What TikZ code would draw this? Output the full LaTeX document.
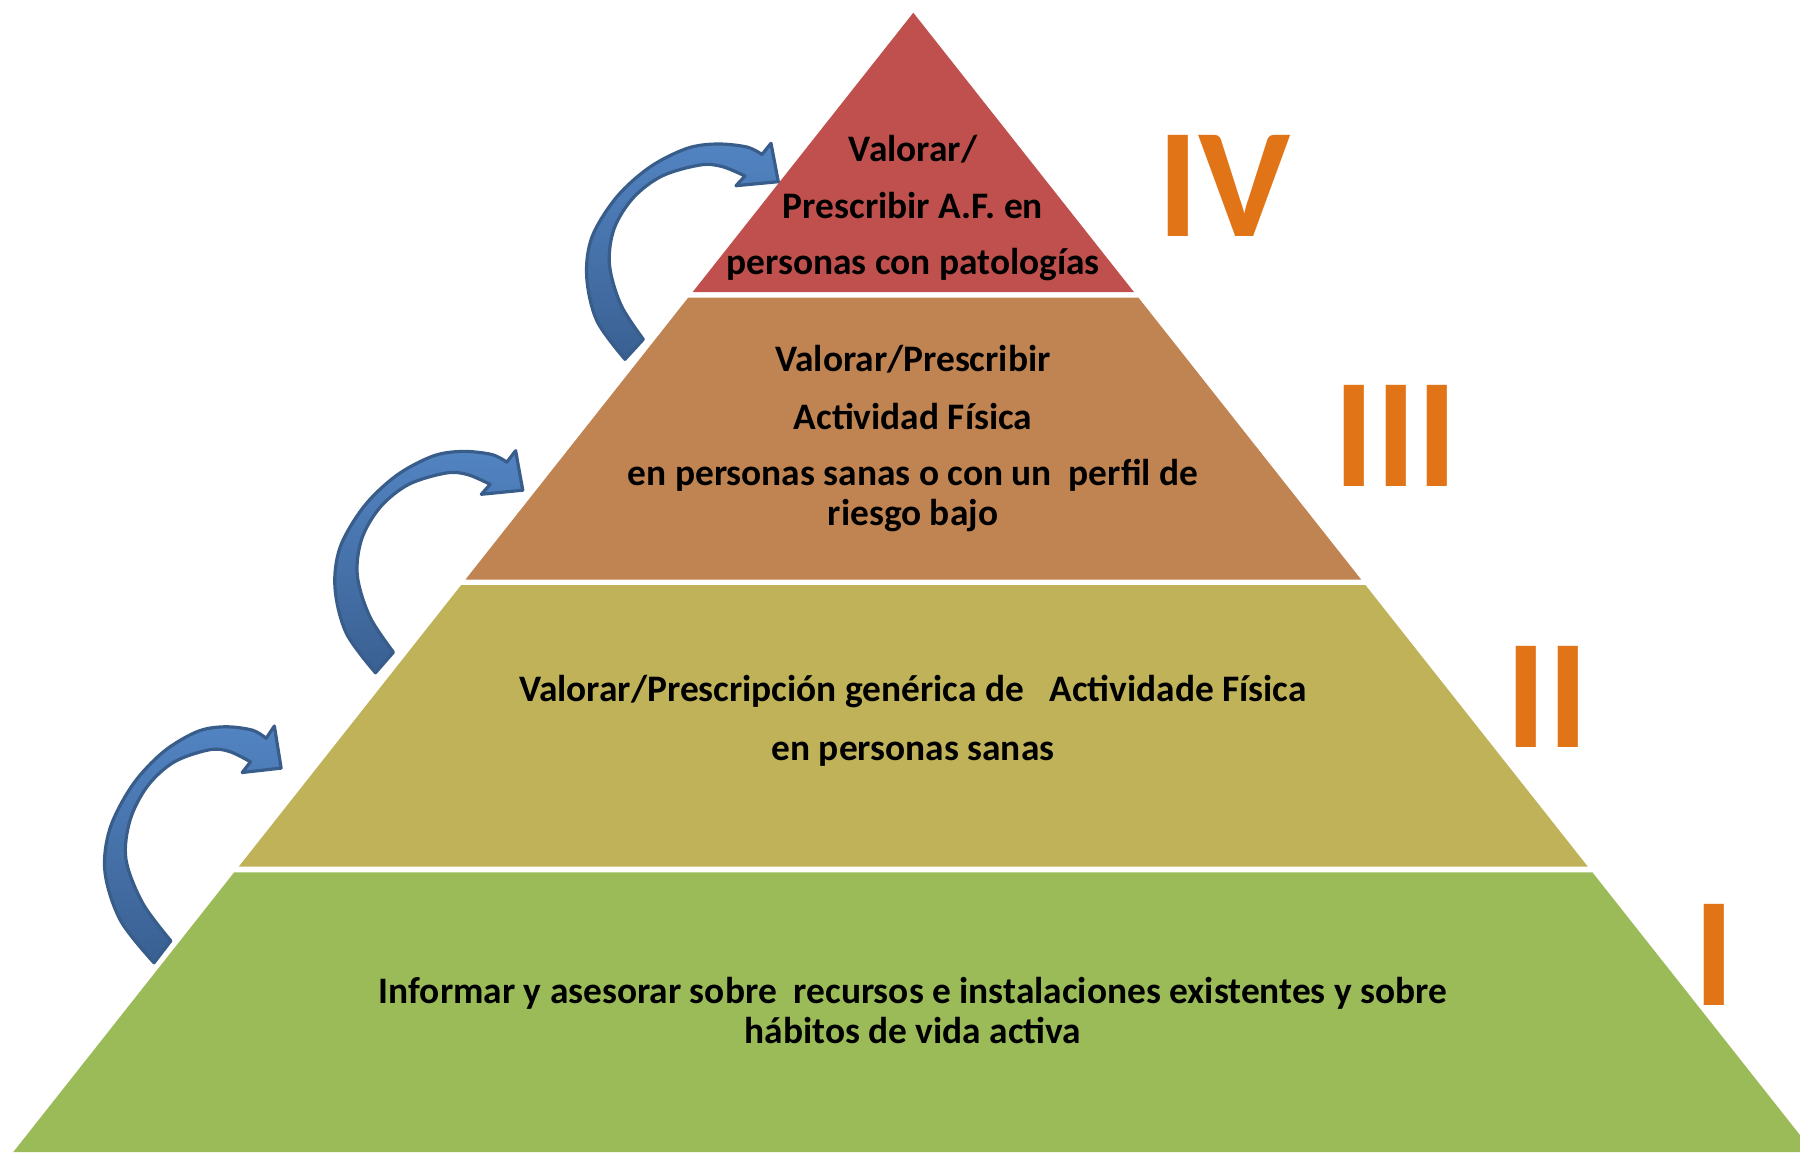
\documentclass[tikz,border=0pt]{standalone}
\usepackage{fontspec}
\setmainfont{Carlito}
\definecolor{tierIV}{RGB}{192,80,77}
\definecolor{tierIII}{RGB}{192,131,82}
\definecolor{tierII}{RGB}{191,178,89}
\definecolor{tierI}{RGB}{155,187,89}
\definecolor{romanorange}{RGB}{226,116,24}
\definecolor{arrowtop}{RGB}{82,132,194}
\definecolor{arrowbot}{RGB}{58,96,146}
\definecolor{arrowline}{RGB}{56,93,138}
\begin{document}
\begin{tikzpicture}[x=0.5pt,y=-0.5pt,
  lbl/.style={font=\bfseries\fontsize{18.7}{22}\selectfont, anchor=base, inner sep=0pt, text=black},
  roman/.style={font=\bfseries\fontsize{78}{90}\selectfont, anchor=base, inner sep=0pt, text=romanorange},
  bluearrowstyle/.style={draw=arrowline, line width=1.6pt, line join=round, top color=arrowtop, bottom color=arrowbot},
  bluearrow/.pic={
    \filldraw[bluearrowstyle]
      plot[smooth, tension=0.55] coordinates {({38+#1},216.3) ({10+0.45*#1},178) (-0.3,134) (5,94) (29.7,54) (63,24) (99.7,5.5) (129.7,1) (159.7,4) (175,11.5)}
      -- (184,0.3) -- (191.3,38.7) -- (149,42.7)
      -- plot[smooth, tension=0.55] coordinates {(158,33) (135,23.5) (113,22) (75,33) (46,55) (27,86) (22.5,122) ({34+0.45*#1},162) ({56.3+#1},196.3)}
      -- cycle;
  }
]
\useasboundingbox (0,0) rectangle (1800,1152);

% tiers
\fill[tierIV]  (913.3,12.7) -- (1133.9,292) -- (692.7,292) -- cycle;
\fill[tierIII] (688.3,297.5) -- (1138.3,297.5) -- (1361.1,579.5) -- (465.5,579.5) -- cycle;
\fill[tierII]  (461.2,585) -- (1365.4,585) -- (1587.9,866.7) -- (238.7,866.7) -- cycle;
\fill[tierI]   (234.2,872.3) -- (1592.4,872.3) -- (1800,1135.1) -- (1800,1152) -- (13.3,1152) -- cycle;

% arrows
\pic at (587,143) {bluearrow=0};
\pic[xscale=0.98, yscale=1.028] at (335.3,450.4) {bluearrow=3};
\pic[xscale=0.919, yscale=1.096] at (105.3,725.7) {bluearrow=15};

% texts tier IV
\node[lbl] (t4a) at (913,161) {Valorar/};
\node[lbl] (t4b) at (913,218.5) {Prescribir A.F. en};
\node[lbl] (t4c) at (913,274) {personas con patologías};

% tier III
\node[lbl] (t3a) at (913,371.7) {Valorar/Prescribir};
\node[lbl] (t3b) at (913,429) {Actividad Física};
\node[lbl] (t3c) at (913,485) {en personas sanas o con un\ \ perfil de};
\node[lbl] (t3d) at (913,525) {riesgo bajo};

% tier II
\node[lbl] (t2a) at (913,701.7) {Valorar/Prescripción genérica de\ \ \ Actividade Física};
\node[lbl] (t2b) at (913,760) {en personas sanas};

% tier I
\node[lbl] (t1a) at (913,1003.3) {Informar y asesorar sobre\ \ recursos e instalaciones existentes y sobre};
\node[lbl] (t1b) at (913,1043.3) {hábitos de vida activa};

% roman numerals
\node[roman] (r4) at (1224,236) {IV};
\node[roman] (r3) at (1396,486) {III};
\node[roman] (r2) at (1547.5,747) {II};
\node[roman] (r1) at (1714,1005) {I};
\end{tikzpicture}
\end{document}
